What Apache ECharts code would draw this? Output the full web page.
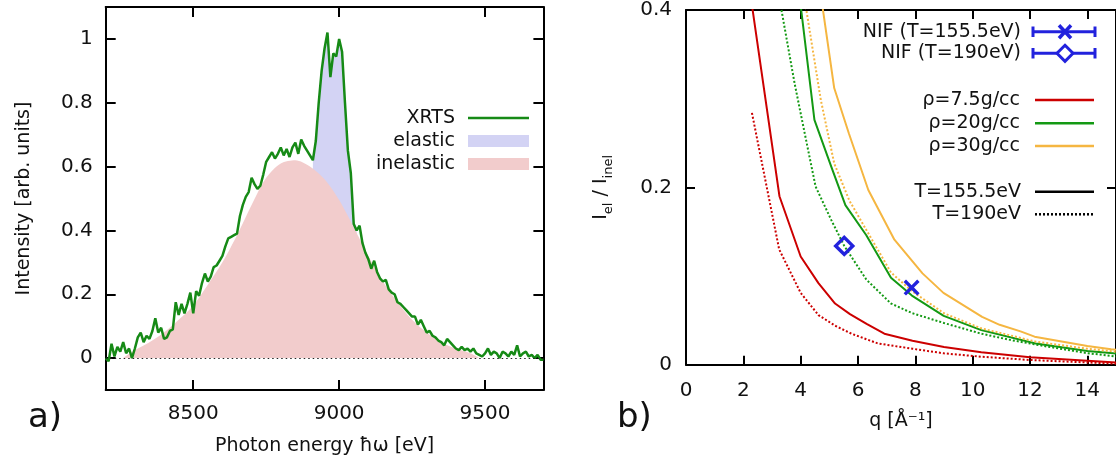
<!DOCTYPE html>
<html><head><meta charset="utf-8">
<script src="https://cdn.jsdelivr.net/npm/echarts@6/dist/echarts.min.js"></script>
<style>html,body{margin:0;padding:0;background:#fff}#c{width:1116px;height:464px}</style>
</head><body><div id="c"></div>
<script>
// ---------- Panel a) data ----------
const xrtsEnergy = [8200,8210,8220,8230,8240,8250,8260,8270,8280,8290,8300,8310,8320,8330,8340,8350,8360,8370,8380,8390,8400,8410,8420,8430,8440,8450,8460,8470,8480,8490,8500,8510,8520,8530,8540,8550,8560,8570,8580,8590,8600,8610,8620,8630,8640,8650,8660,8670,8680,8690,8700,8710,8720,8730,8740,8750,8760,8770,8780,8790,8800,8810,8820,8830,8840,8850,8860,8870,8880,8890,8900,8910,8920,8930,8940,8950,8960,8970,8980,8990,9000,9010,9020,9030,9040,9050,9060,9070,9080,9090,9100,9110,9120,9130,9140,9150,9160,9170,9180,9190,9200,9210,9220,9230,9240,9250,9260,9270,9280,9290,9300,9310,9320,9330,9340,9350,9360,9370,9380,9390,9400,9410,9420,9430,9440,9450,9460,9470,9480,9490,9500,9510,9520,9530,9540,9550,9560,9570,9580,9590,9600,9610,9620,9630,9640,9650,9660,9670,9680,9690,9700];
const xrtsIntensity = [0.00,-0.01,0.045,0.005,0.035,0.02,0.05,0.015,0.03,0.00,0.03,0.065,0.08,0.05,0.07,0.06,0.085,0.125,0.08,0.095,0.06,0.065,0.085,0.09,0.175,0.135,0.17,0.14,0.17,0.205,0.14,0.21,0.195,0.235,0.265,0.24,0.255,0.285,0.29,0.305,0.32,0.35,0.375,0.38,0.385,0.39,0.445,0.48,0.505,0.52,0.565,0.545,0.53,0.54,0.575,0.615,0.63,0.645,0.625,0.64,0.66,0.635,0.655,0.63,0.66,0.675,0.64,0.685,0.665,0.65,0.635,0.62,0.68,0.80,0.90,0.97,1.02,0.88,0.955,0.945,1.00,0.96,0.80,0.65,0.58,0.42,0.40,0.415,0.36,0.33,0.31,0.28,0.305,0.27,0.25,0.24,0.245,0.215,0.205,0.20,0.175,0.17,0.16,0.15,0.14,0.13,0.13,0.105,0.12,0.10,0.08,0.085,0.07,0.065,0.055,0.05,0.04,0.06,0.05,0.04,0.03,0.025,0.035,0.025,0.03,0.02,0.03,0.015,0.01,0.005,0.015,0.03,0.01,0.02,0.015,0.0,0.02,0.015,0.005,0.02,0.01,0.04,0.005,0.015,0.02,0.005,0.01,0.0,0.01,-0.005,-0.005];
const elasticEnergy = [8910,8920,8930,8940,8950,8960,8970,8980,8990,9000,9010,9020,9030,9040,9050,9060];
const elasticIntensity = [0.62,0.68,0.80,0.90,0.97,1.02,0.88,0.955,0.945,1.00,0.96,0.80,0.65,0.58,0.42,0.40];
const inelasticEnergy = [8260,8300,8350,8400,8450,8500,8550,8600,8650,8700,8750,8800,8850,8900,8950,9000,9050,9100,9150,9200,9250,9300,9350,9400,9450,9480];
const inelasticIntensity = [0.0,0.025,0.05,0.08,0.12,0.165,0.23,0.30,0.385,0.48,0.565,0.61,0.62,0.60,0.56,0.495,0.41,0.32,0.24,0.175,0.12,0.08,0.05,0.03,0.015,0.0];
const energyTicks = [8500,9000,9500];
const intensityTicks = [0,0.2,0.4,0.6,0.8,1];

// ---------- Panel b) data ----------
const qTicks = [0,2,4,6,8,10,12,14];
const ratioTicks = [0,0.2,0.4];
const red155q = [2.28,3.26,4.0,4.62,5.2,5.72,6.3,6.92,7.9,9.0,10.3,12.0,14.0,15.5];
const red155v = [0.41,0.19,0.122,0.092,0.069,0.057,0.046,0.035,0.027,0.020,0.014,0.0085,0.0045,0.0015];
const red190q = [2.3,3.25,4.0,4.62,5.2,5.77,6.69,7.9,9.0,10.3,12.0,14.0,15.5];
const red190v = [0.284,0.13,0.081,0.056,0.044,0.035,0.024,0.018,0.0128,0.009,0.0053,0.0025,0.0005];
const green155q = [4.0,4.48,5.07,5.56,6.29,7.15,7.88,8.99,10.3,12.2,14.0,15.5];
const green155v = [0.405,0.276,0.223,0.180,0.146,0.098,0.078,0.055,0.039,0.024,0.0155,0.011];
const green190q = [3.33,3.79,4.21,4.52,5.07,5.52,6.29,7.15,7.9,9.0,10.3,11.3,12.5,14.0,15.5];
const green190v = [0.40,0.317,0.25,0.201,0.163,0.134,0.096,0.069,0.058,0.047,0.035,0.028,0.021,0.013,0.0075];
const orange155q = [4.6,5.17,5.68,6.36,7.27,8.25,8.98,10.33,10.94,11.67,12.16,14.0,14.83,15.5];
const orange155v = [0.44,0.312,0.261,0.197,0.141,0.103,0.081,0.054,0.045,0.0376,0.0316,0.021,0.0174,0.015];
const orange190q = [4.05,4.7,5.17,5.7,6.29,7.15,7.88,9.0,10.3,12.2,14.0,15.5];
const orange190v = [0.43,0.299,0.227,0.185,0.152,0.104,0.083,0.058,0.041,0.026,0.018,0.013];
const nif155 = [[7.87,0.087]];
const nif190 = [[5.52,0.134]];

const zip = (a,b) => a.map((v,i)=>[v,b[i]]);
const FONT = 'DejaVu Sans';
const TXT = '#111';
const RED = '#cc0000', GREEN = '#139913', ORANGE = '#f5b641', BLUE = '#2222dd';
const XGREEN = '#168a16';

function frameAxis(extra){
  return Object.assign({
    type:'value',
    axisLine:{show:true,onZero:false,lineStyle:{color:'#000',width:2}},
    axisTick:{show:true,inside:true,length:9,lineStyle:{color:'#000',width:2}},
    axisLabel:{show:false},
    splitLine:{show:false}
  }, extra);
}
const labelStyle = {fontSize:20,color:TXT,fontFamily:FONT,formatter:v=>String(v)};
const nameStyle = {fontSize:19,color:TXT,fontFamily:FONT};

const chart = echarts.init(document.getElementById('c'), null, {renderer:'canvas'});
const X_PATH = 'path://M3,0L10,7L17,0L20,3L13,10L20,17L17,20L10,13L3,20L0,17L7,10L0,3Z';

const option = {
  animation:false,
  backgroundColor:'#fff',
  grid:[
    {left:105.7, top:7, width:437.7, height:383},
    {left:686, top:10, width:435, height:354.7}
  ],
  xAxis:[
    frameAxis({gridIndex:0,min:8200,max:9700,position:'bottom',
      axisTick:{show:true,inside:true,length:10,customValues:energyTicks,lineStyle:{color:'#000',width:2}},
      axisLabel:Object.assign({show:true,margin:14,customValues:energyTicks},labelStyle),
      name:'Photon energy ħω [eV]',nameLocation:'middle',nameGap:47,nameTextStyle:nameStyle}),
    frameAxis({gridIndex:0,min:8200,max:9700,position:'top',
      axisTick:{show:true,inside:true,length:10,customValues:energyTicks,lineStyle:{color:'#000',width:2}}}),
    frameAxis({gridIndex:1,min:0,max:15,position:'bottom',
      axisTick:{show:true,inside:true,length:9,customValues:qTicks,lineStyle:{color:'#000',width:2}},
      axisLabel:Object.assign({show:true,margin:16,customValues:qTicks},labelStyle),
      name:'q [Å⁻¹]',nameLocation:'middle',nameGap:47,nameTextStyle:nameStyle}),
    frameAxis({gridIndex:1,min:0,max:15,position:'top',
      axisTick:{show:true,inside:true,length:9,customValues:qTicks,lineStyle:{color:'#000',width:2}}})
  ],
  yAxis:[
    frameAxis({gridIndex:0,min:-0.1,max:1.1,position:'left',
      axisTick:{show:true,inside:true,length:10,customValues:intensityTicks,lineStyle:{color:'#000',width:2}},
      axisLabel:Object.assign({show:true,margin:13,customValues:intensityTicks},labelStyle),
      name:'Intensity [arb. units]',nameLocation:'middle',nameGap:72,nameRotate:90,nameTextStyle:nameStyle}),
    frameAxis({gridIndex:0,min:-0.1,max:1.1,position:'right',
      axisTick:{show:true,inside:true,length:10,customValues:intensityTicks,lineStyle:{color:'#000',width:2}}}),
    frameAxis({gridIndex:1,min:0,max:0.4,position:'left',
      axisTick:{show:true,inside:true,length:9,customValues:ratioTicks,lineStyle:{color:'#000',width:2}},
      axisLabel:Object.assign({show:true,margin:14,customValues:ratioTicks},labelStyle),
      name:'{m|I}{s|el}{m| / I}{s|inel}',nameLocation:'middle',nameGap:74,nameRotate:90,
      nameTextStyle:Object.assign({},nameStyle,{rich:{
        m:{fontSize:19,fontFamily:FONT,color:TXT,lineHeight:20,verticalAlign:'top'},
        s:{fontSize:13,fontFamily:FONT,color:TXT,lineHeight:14,padding:[10,0,0,0],verticalAlign:'top'}
      }})}),
    frameAxis({gridIndex:1,min:0,max:0.4,position:'right',
      axisTick:{show:true,inside:true,length:9,customValues:ratioTicks,lineStyle:{color:'#000',width:2}}})
  ],
  series:[
    {name:'elastic',type:'line',xAxisIndex:0,yAxisIndex:0,data:zip(elasticEnergy,elasticIntensity),
      showSymbol:false,lineStyle:{width:0},areaStyle:{color:'#d3d3f4',opacity:1},z:1},
    {name:'inelastic',type:'line',xAxisIndex:0,yAxisIndex:0,data:zip(inelasticEnergy,inelasticIntensity),
      smooth:0.3,showSymbol:false,lineStyle:{width:0},areaStyle:{color:'#f2cccc',opacity:1},z:2,
      markLine:{silent:true,symbol:'none',label:{show:false},data:[{yAxis:0}],
        lineStyle:{type:[1.5,3],color:'#222',width:1.2,opacity:1}}},
    {name:'XRTS',type:'line',xAxisIndex:0,yAxisIndex:0,data:zip(xrtsEnergy,xrtsIntensity),
      showSymbol:false,lineStyle:{color:XGREEN,width:2.5},z:3},

    {name:'ρ=7.5g/cc T=155.5eV',type:'line',xAxisIndex:2,yAxisIndex:2,data:zip(red155q,red155v),showSymbol:false,lineStyle:{color:RED,width:2}},
    {name:'ρ=7.5g/cc T=190eV',type:'line',xAxisIndex:2,yAxisIndex:2,data:zip(red190q,red190v),showSymbol:false,lineStyle:{color:RED,width:2,type:[2,2]}},
    {name:'ρ=20g/cc T=155.5eV',type:'line',xAxisIndex:2,yAxisIndex:2,data:zip(green155q,green155v),showSymbol:false,lineStyle:{color:GREEN,width:2}},
    {name:'ρ=20g/cc T=190eV',type:'line',xAxisIndex:2,yAxisIndex:2,data:zip(green190q,green190v),showSymbol:false,lineStyle:{color:GREEN,width:2,type:[2,2]}},
    {name:'ρ=30g/cc T=155.5eV',type:'line',xAxisIndex:2,yAxisIndex:2,data:zip(orange155q,orange155v),showSymbol:false,lineStyle:{color:ORANGE,width:2}},
    {name:'ρ=30g/cc T=190eV',type:'line',xAxisIndex:2,yAxisIndex:2,data:zip(orange190q,orange190v),showSymbol:false,lineStyle:{color:ORANGE,width:2,type:[2,2]}},
    {name:'NIF (T=155.5eV)',type:'scatter',xAxisIndex:2,yAxisIndex:2,data:nif155,symbol:X_PATH,symbolSize:16,itemStyle:{color:BLUE,opacity:1},z:5},
    {name:'NIF (T=190eV)',type:'scatter',xAxisIndex:2,yAxisIndex:2,data:nif190,symbol:'diamond',symbolSize:[17,17],
      itemStyle:{color:'rgba(255,255,255,0)',borderColor:BLUE,borderWidth:3.5,opacity:1},z:5}
  ],
  graphic:[]
};

// legends & panel labels
const G = option.graphic;
function t(text,x,y,size,align){G.push({type:'text',x:x,y:y,style:{text:text,fill:TXT,font:(size||19)+'px "DejaVu Sans"',textAlign:align||'right',textVerticalAlign:'middle'},z:10});}
function ln(x1,y1,x2,y2,color,w,dash){G.push({type:'line',shape:{x1,y1,x2,y2},style:{stroke:color,lineWidth:w||2,lineDash:dash||null},z:10});}
// panel a legend
t('XRTS',455,118); ln(468,118,529,118,XGREEN,2.5);
t('elastic',455,141.5); G.push({type:'rect',shape:{x:468,y:135,width:61,height:12},style:{fill:'#d3d3f4'},z:10});
t('inelastic',455,164.5); G.push({type:'rect',shape:{x:468,y:158,width:61,height:12},style:{fill:'#f2cccc'},z:10});
// panel b legend
t('NIF (T=155.5eV)',1021,31.7);
ln(1033,31.7,1095,31.7,BLUE,3); ln(1033,26.5,1033,37,BLUE,3); ln(1095,26.5,1095,37,BLUE,3);
ln(1059,25.2,1071,38.2,BLUE,3.5); ln(1071,25.2,1059,38.2,BLUE,3.5);
t('NIF (T=190eV)',1021,53.3);
ln(1033,53.3,1095,53.3,BLUE,3); ln(1033,48,1033,58.5,BLUE,3); ln(1095,48,1095,58.5,BLUE,3);
G.push({type:'polygon',shape:{points:[[1065,45.3],[1073,53.3],[1065,61.3],[1057,53.3]]},style:{fill:'#fff',stroke:BLUE,lineWidth:3},z:11});
t('ρ=7.5g/cc',1020,100); ln(1035,100,1094,100,RED,2.5);
t('ρ=20g/cc',1020,123.3); ln(1035,123.3,1094,123.3,GREEN,2.5);
t('ρ=30g/cc',1020,146); ln(1035,146,1094,146,ORANGE,2.5);
t('T=155.5eV',1021,191.7); ln(1035,191.7,1094,191.7,'#000',2.5);
t('T=190eV',1021,214.3); ln(1035,214.3,1094,214.3,'#000',2.5,[2,2]);
// panel labels
t('a)',28,418,34,'left');
t('b)',617,418,34,'left');

chart.setOption(option);
</script></body></html>
